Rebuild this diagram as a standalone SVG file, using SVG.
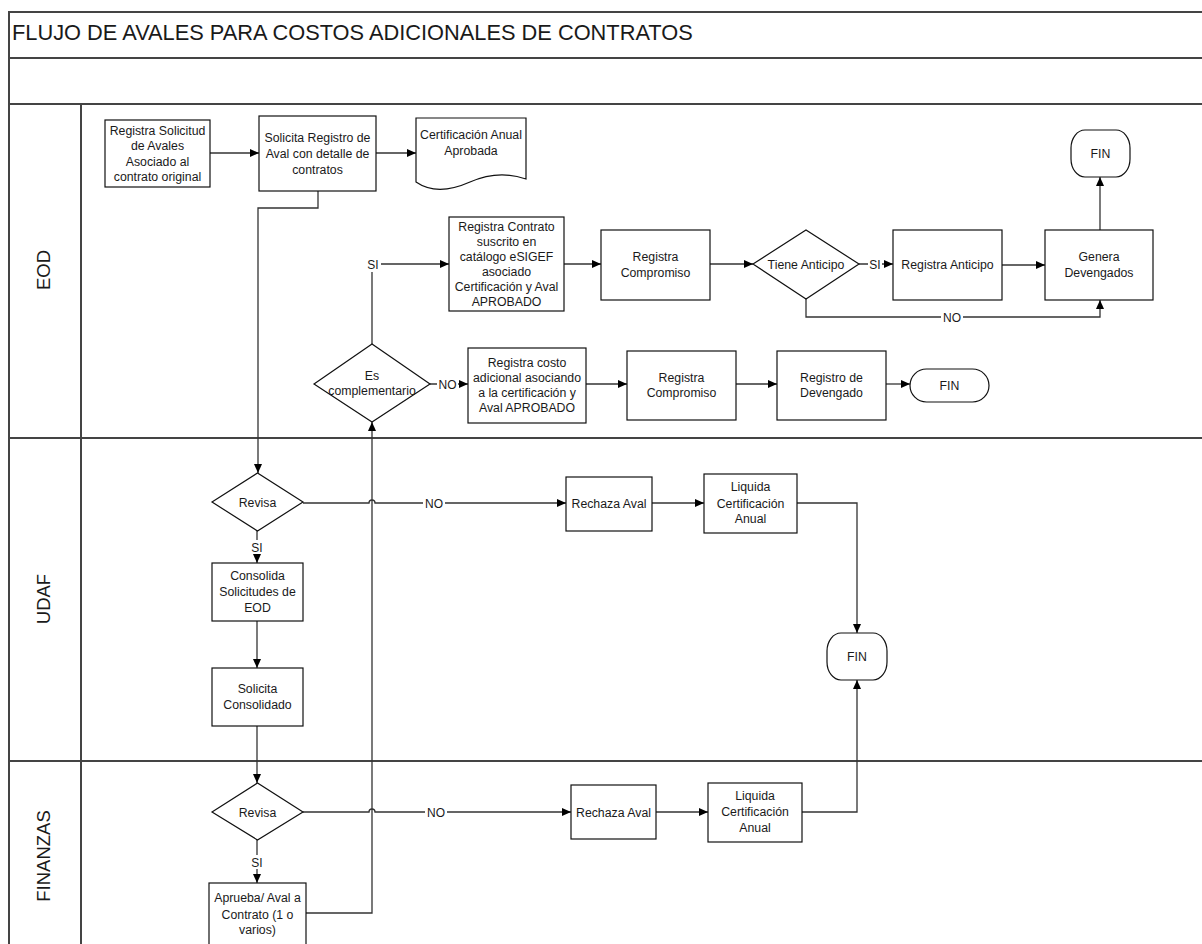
<svg xmlns="http://www.w3.org/2000/svg" width="1202" height="944" viewBox="0 0 1202 944">
<defs>
<marker id="a" markerWidth="9" markerHeight="8" refX="9" refY="4" orient="auto" markerUnits="userSpaceOnUse"><path d="M0,0 L9,4 L0,8 z" fill="#000"/></marker>
<style>
.f{stroke:#444;stroke-width:2;fill:none}
.n{fill:#fff;stroke:#111;stroke-width:1.2}
.c{fill:none;stroke:#333;stroke-width:1.3}
text{font-family:"Liberation Sans",Arial,sans-serif;fill:#1a1a1a}
.t{font-size:12.3px;text-anchor:middle}
.l{font-size:12px;text-anchor:middle}
.lane{font-size:18.5px;text-anchor:middle}
.bg{fill:#fff}
</style>
</defs>
<rect width="1202" height="944" fill="#fff"/>
<g id="frame">
<path class="f" d="M9,944 V12 H1202 M9,58 H1202 M9,104 H1202 M9,438 H1202 M9,761 H1202 M81,104 V944"/>
<text x="12" y="40" style="font-size:21.8px">FLUJO DE AVALES PARA COSTOS ADICIONALES DE CONTRATOS</text>
<text class="lane" transform="translate(50,270) rotate(-90)">EOD</text>
<text class="lane" transform="translate(50,599) rotate(-90)">UDAF</text>
<text class="lane" transform="translate(50,856) rotate(-90)">FINANZAS</text>
</g>
<g id="connectors">
<path class="c" marker-end="url(#a)" d="M210,153 H259"/>
<path class="c" marker-end="url(#a)" d="M376,153 H416"/>
<path class="c" marker-end="url(#a)" d="M318,191 V208 H258 V473"/>
<path class="c" marker-end="url(#a)" d="M372,344 V264 H449"/>
<path class="c" marker-end="url(#a)" d="M564,264 H601"/>
<path class="c" marker-end="url(#a)" d="M710,264 H753"/>
<path class="c" marker-end="url(#a)" d="M859,264 H893"/>
<path class="c" marker-end="url(#a)" d="M1002,265 H1045"/>
<path class="c" marker-end="url(#a)" d="M1100,230 V177"/>
<path class="c" marker-end="url(#a)" d="M806,299 V317 H1100 V300"/>
<path class="c" marker-end="url(#a)" d="M430,384 H468"/>
<path class="c" marker-end="url(#a)" d="M586,384 H627"/>
<path class="c" marker-end="url(#a)" d="M736,384 H777"/>
<path class="c" marker-end="url(#a)" d="M886,384 H910"/>
<path class="c" marker-end="url(#a)" d="M306,913 H372 V422"/>
<path class="c" marker-end="url(#a)" d="M303,503 H369 A3,3 0 0 1 375,503 H566"/>
<path class="c" marker-end="url(#a)" d="M652,503 H704"/>
<path class="c" marker-end="url(#a)" d="M797,503 H857 V633"/>
<path class="c" marker-end="url(#a)" d="M257,531 V563"/>
<path class="c" marker-end="url(#a)" d="M257,621 V668"/>
<path class="c" marker-end="url(#a)" d="M257,726 V783"/>
<path class="c" marker-end="url(#a)" d="M303,812 H369 A3,3 0 0 1 375,812 H571"/>
<path class="c" marker-end="url(#a)" d="M656,812 H708"/>
<path class="c" marker-end="url(#a)" d="M802,812 H857 V680"/>
<path class="c" marker-end="url(#a)" d="M257,840 V883"/>
<rect class="bg" x="364" y="256" width="17" height="16"/><text class="l" x="373" y="268.5">SI</text>
<rect class="bg" x="868" y="257" width="14" height="14"/><text class="l" x="875" y="268.5">SI</text>
<rect class="bg" x="941" y="310" width="22" height="14"/><text class="l" x="952" y="321.5">NO</text>
<rect class="bg" x="437" y="377" width="21" height="14"/><text class="l" x="447.5" y="388.5">NO</text>
<rect class="bg" x="423" y="496" width="22" height="14"/><text class="l" x="434" y="507.5">NO</text>
<rect class="bg" x="425" y="805" width="22" height="14"/><text class="l" x="436" y="816.5">NO</text>
<rect class="bg" x="250" y="540" width="15" height="14"/><text class="l" x="257" y="551.5">SI</text>
<rect class="bg" x="250" y="855" width="15" height="14"/><text class="l" x="257" y="866.5">SI</text>
</g>
<g id="n1"><rect class="n" x="105" y="120" width="105" height="67"/>
<text class="t" x="157.5" y="134.6">Registra Solicitud</text><text class="t" x="157.5" y="150.1">de Avales</text><text class="t" x="157.5" y="165.6">Asociado al</text><text class="t" x="157.5" y="181.1">contrato original</text></g>
<g id="n2"><rect class="n" x="259" y="116" width="117" height="75"/>
<text class="t" x="317.5" y="142">Solicita Registro de</text><text class="t" x="317.5" y="157.8">Aval con detalle de</text><text class="t" x="317.5" y="173.5">contratos</text></g>
<g id="n3"><path class="n" d="M416,118 H526 V179 C506,172 488,174 470,182 C452,190 432,193 416,182 Z"/>
<text class="t" x="471" y="139">Certificación Anual</text><text class="t" x="471" y="155">Aprobada</text></g>
<g id="n4"><rect class="n" x="449" y="217" width="115" height="94"/>
<text class="t" x="506.5" y="231">Registra Contrato</text><text class="t" x="506.5" y="246">suscrito en</text><text class="t" x="506.5" y="261">catálogo eSIGEF</text><text class="t" x="506.5" y="276">asociado</text><text class="t" x="506.5" y="291">Certificación y Aval</text><text class="t" x="506.5" y="306">APROBADO</text></g>
<g id="n5"><rect class="n" x="601" y="230" width="109" height="70"/>
<text class="t" x="655.5" y="260.5">Registra</text><text class="t" x="655.5" y="277">Compromiso</text></g>
<g id="n6"><path class="n" d="M753,264 L806,230 L859,264 L806,299 Z"/>
<text class="t" x="806" y="268.5">Tiene Anticipo</text></g>
<g id="n7"><rect class="n" x="893" y="230" width="109" height="70"/>
<text class="t" x="947.5" y="269">Registra Anticipo</text></g>
<g id="n8"><rect class="n" x="1045" y="230" width="108" height="70"/>
<text class="t" x="1099" y="260.5">Genera</text><text class="t" x="1099" y="276.5">Devengados</text></g>
<g id="n9"><rect class="n" x="1071" y="130" width="59" height="47" rx="14" ry="18"/>
<text class="t" x="1100.5" y="157.5">FIN</text></g>
<g id="n10"><path class="n" d="M314,384 L372,344 L430,384 L372,422 Z"/>
<text class="t" x="372" y="379.5">Es</text><text class="t" x="372" y="395">complementario</text></g>
<g id="n11"><rect class="n" x="468" y="348" width="118" height="75"/>
<text class="t" x="527" y="366.5">Registra costo</text><text class="t" x="527" y="381.5">adicional asociando</text><text class="t" x="527" y="396.5">a la certificación y</text><text class="t" x="527" y="411.5">Aval APROBADO</text></g>
<g id="n12"><rect class="n" x="627" y="351" width="109" height="69"/>
<text class="t" x="681.5" y="381.5">Registra</text><text class="t" x="681.5" y="397">Compromiso</text></g>
<g id="n13"><rect class="n" x="777" y="351" width="109" height="69"/>
<text class="t" x="831.5" y="381.5">Registro de</text><text class="t" x="831.5" y="397">Devengado</text></g>
<g id="n14"><rect class="n" x="910" y="369" width="79" height="33" rx="16.5" ry="16.5"/>
<text class="t" x="949.5" y="389.5">FIN</text></g>
<g id="n15"><path class="n" d="M212,502 L257.5,473 L303,502 L257.5,531 Z"/>
<text class="t" x="257.5" y="506.5">Revisa</text></g>
<g id="n16"><rect class="n" x="212" y="563" width="91" height="58"/>
<text class="t" x="257.5" y="580">Consolida</text><text class="t" x="257.5" y="596">Solicitudes de</text><text class="t" x="257.5" y="612">EOD</text></g>
<g id="n17"><rect class="n" x="212" y="668" width="91" height="58"/>
<text class="t" x="257.5" y="693">Solicita</text><text class="t" x="257.5" y="709">Consolidado</text></g>
<g id="n18"><rect class="n" x="566" y="477" width="86" height="54"/>
<text class="t" x="609" y="508">Rechaza Aval</text></g>
<g id="n19"><rect class="n" x="704" y="474" width="93" height="59"/>
<text class="t" x="750.5" y="491">Liquida</text><text class="t" x="750.5" y="507.5">Certificación</text><text class="t" x="750.5" y="523">Anual</text></g>
<g id="n20"><rect class="n" x="827" y="633" width="60" height="47" rx="14" ry="18"/>
<text class="t" x="857" y="660.5">FIN</text></g>
<g id="n21"><path class="n" d="M212,812 L257.5,783 L303,812 L257.5,840 Z"/>
<text class="t" x="257.5" y="816.5">Revisa</text></g>
<g id="n22"><rect class="n" x="209" y="883" width="97" height="62"/>
<text class="t" x="257.5" y="902">Aprueba/ Aval a</text><text class="t" x="257.5" y="918.5">Contrato (1 o</text><text class="t" x="257.5" y="934">varios)</text></g>
<g id="n23"><rect class="n" x="571" y="785" width="85" height="54"/>
<text class="t" x="613.5" y="816.5">Rechaza Aval</text></g>
<g id="n24"><rect class="n" x="708" y="783" width="94" height="59"/>
<text class="t" x="755" y="800">Liquida</text><text class="t" x="755" y="816">Certificación</text><text class="t" x="755" y="831.5">Anual</text></g>
</svg>
